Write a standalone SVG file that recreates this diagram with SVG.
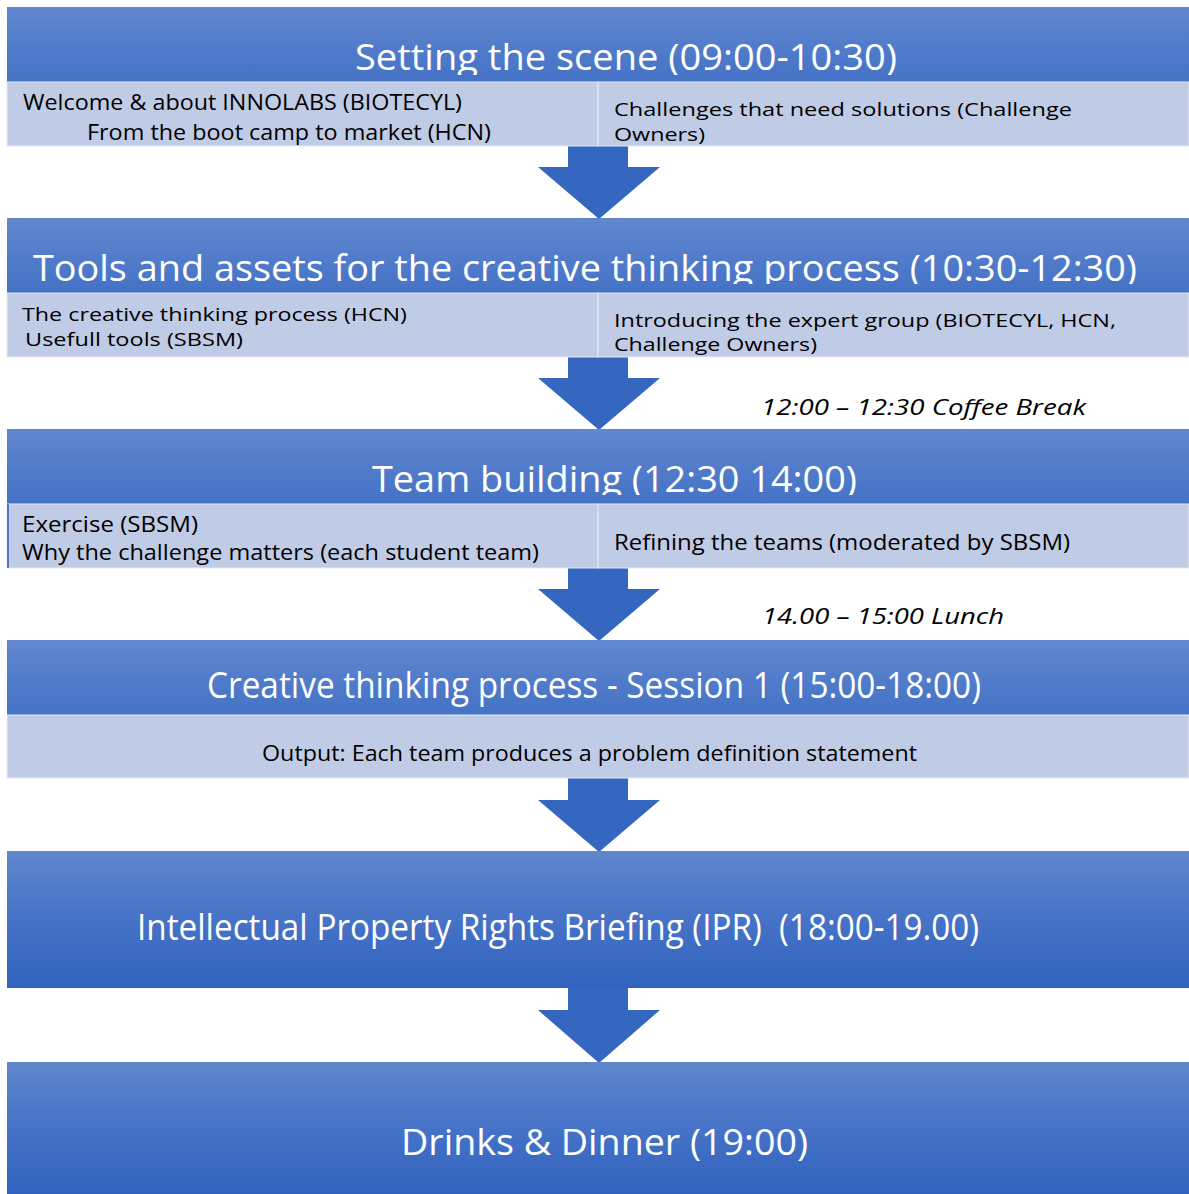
<svg xmlns="http://www.w3.org/2000/svg" width="1189" height="1194" viewBox="0 0 1189 1194">
<defs>
<linearGradient id="hg" x1="0" y1="0" x2="0" y2="1">
<stop offset="0" stop-color="#6187cf"/>
<stop offset="1" stop-color="#4472c6"/>
</linearGradient>
<linearGradient id="bg" x1="0" y1="0" x2="0" y2="1">
<stop offset="0" stop-color="#6086cd"/>
<stop offset="0.5" stop-color="#4673c7"/>
<stop offset="1" stop-color="#3162be"/>
</linearGradient>
<clipPath id="c1"><rect x="0" y="0" width="1189" height="75"/></clipPath>
<clipPath id="c2"><rect x="0" y="218" width="1189" height="66"/></clipPath>
<clipPath id="c3"><rect x="0" y="429" width="1189" height="66"/></clipPath>
</defs>
<style>
.hdr{fill:url(#hg)}
.big{fill:url(#bg)}
.sub{fill:#c0cbe6;stroke:#e4e9f5;stroke-width:1}
.arr{fill:#3566c0}
.ht{font-family:"Open Sans","Noto Sans",sans-serif;fill:#ffffff;font-size:36px}
.st{font-family:"Open Sans","Noto Sans",sans-serif;fill:#000000;font-size:21px}
.tt{font-size:19px}
.it{font-family:"Open Sans","Noto Sans",sans-serif;fill:#000000;font-size:22px;font-style:italic}
</style>
<rect x="0" y="0" width="1189" height="1194" fill="#ffffff"/>
<g id="connectors">
<polygon class="arr" points="568,146 628,146 628,167 660,167 599,219 538,167 568,167"/>
<polygon class="arr" points="568,357 628,357 628,378 660,378 599,430 538,378 568,378"/>
<polygon class="arr" points="568,568 628,568 628,589 660,589 599,641 538,589 568,589"/>
<polygon class="arr" points="568,778 628,778 628,800 660,800 599,852 538,800 568,800"/>
<polygon class="arr" points="568,988 628,988 628,1010 660,1010 599,1063 538,1010 568,1010"/>
</g>
<g id="node1">
<rect class="hdr" x="7" y="7" width="1182" height="75"/>
<text class="ht" x="355" y="70" textLength="542" lengthAdjust="spacingAndGlyphs" clip-path="url(#c1)">Setting the scene (09:00-10:30)</text>
<rect class="sub" x="7" y="82" width="591" height="64"/>
<rect class="sub" x="598" y="82" width="591" height="64"/>
<text class="st" x="23" y="110" textLength="439" lengthAdjust="spacingAndGlyphs">Welcome &amp; about INNOLABS (BIOTECYL)</text>
<text class="st" x="87" y="140" textLength="404" lengthAdjust="spacingAndGlyphs">From the boot camp to market (HCN)</text>
<text class="st tt" x="614" y="116" textLength="458" lengthAdjust="spacingAndGlyphs">Challenges that need  solutions (Challenge</text>
<text class="st tt" x="614" y="141" textLength="91" lengthAdjust="spacingAndGlyphs">Owners)</text>
</g>
<g id="node2">
<rect class="hdr" x="7" y="218" width="1182" height="75"/>
<text class="ht" x="33" y="281" textLength="1104" lengthAdjust="spacingAndGlyphs" clip-path="url(#c2)">Tools and assets for the creative thinking process (10:30-12:30)</text>
<rect class="sub" x="7" y="293" width="591" height="64"/>
<rect class="sub" x="598" y="293" width="591" height="64"/>
<text class="st tt" x="22" y="321" textLength="385" lengthAdjust="spacingAndGlyphs">The creative thinking process (HCN)</text>
<text class="st tt" x="25" y="346" textLength="218" lengthAdjust="spacingAndGlyphs">Usefull tools (SBSM)</text>
<text class="st tt" x="614" y="327" textLength="502" lengthAdjust="spacingAndGlyphs">Introducing the  expert group (BIOTECYL, HCN,</text>
<text class="st tt" x="614" y="351" textLength="203" lengthAdjust="spacingAndGlyphs">Challenge Owners)</text>
</g>
<text id="coffee" class="it" x="761" y="415" textLength="325" lengthAdjust="spacingAndGlyphs">12:00 – 12:30 Coffee Break</text>
<g id="node3">
<rect class="hdr" x="7" y="429" width="1182" height="75"/>
<text class="ht" x="372" y="492" textLength="485" lengthAdjust="spacingAndGlyphs" clip-path="url(#c3)">Team building (12:30 14:00)</text>
<rect class="sub" x="7" y="504" width="591" height="64"/>
<rect class="sub" x="598" y="504" width="591" height="64"/>
<rect x="7" y="504" width="2" height="64" fill="#5577bb"/>
<text class="st" x="22" y="532" textLength="176" lengthAdjust="spacingAndGlyphs">Exercise  (SBSM)</text>
<text class="st" x="22" y="560" textLength="517" lengthAdjust="spacingAndGlyphs">Why the challenge matters (each student team)</text>
<text class="st" x="614" y="550" textLength="456" lengthAdjust="spacingAndGlyphs">Refining the teams (moderated   by SBSM)</text>
</g>
<text id="lunch" class="it" x="762" y="624" textLength="242" lengthAdjust="spacingAndGlyphs">14.00 – 15:00 Lunch</text>
<g id="node4">
<rect class="hdr" x="7" y="640" width="1182" height="75"/>
<text class="ht" x="207" y="698" font-size="32" textLength="774" lengthAdjust="spacingAndGlyphs">Creative thinking process  - Session 1 (15:00-18:00)</text>
<rect class="sub" x="7" y="715" width="1182" height="63"/>
<text class="st" x="262" y="761" textLength="655" lengthAdjust="spacingAndGlyphs">Output: Each team produces a problem definition statement</text>
</g>
<g id="node5">
<rect class="big" x="7" y="851" width="1182" height="137"/>
<text class="ht" x="137" y="940" font-size="32" textLength="842" lengthAdjust="spacingAndGlyphs" xml:space="preserve">Intellectual Property Rights Briefing (IPR)  (18:00-19.00)</text>
</g>
<g id="node6">
<rect class="big" x="7" y="1062" width="1182" height="132"/>
<text class="ht" x="401" y="1155" textLength="407" lengthAdjust="spacingAndGlyphs">Drinks &amp; Dinner (19:00)</text>
</g>
</svg>
